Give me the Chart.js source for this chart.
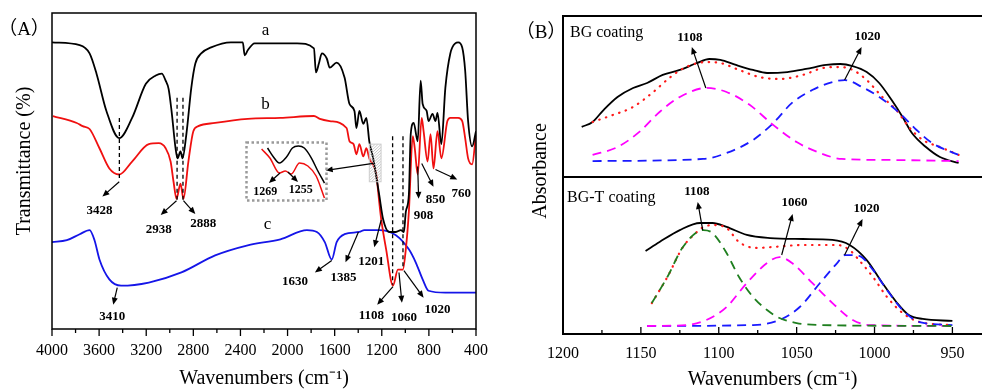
<!DOCTYPE html>
<html>
<head>
<meta charset="utf-8">
<script src="https://cdn.jsdelivr.net/npm/chart.js@4.4.1/dist/chart.umd.min.js"></script>
<style>
  body { margin: 0; background: #fff; }
  #wrap { position: relative; width: 982px; height: 392px; overflow: hidden; }
  .box { position: absolute; }
</style>
</head>
<body>
<div id="wrap">
  <div class="box" style="left:0;top:0;width:500px;height:392px"><canvas id="ftir"></canvas></div>
  <div class="box" style="left:245px;top:141px;width:83px;height:61px"><canvas id="inset"></canvas></div>
  <div class="box" style="left:520px;top:0;width:462px;height:392px"><canvas id="bgt"></canvas></div>
  <div class="box" style="left:520px;top:0;width:462px;height:178px"><canvas id="bg"></canvas></div>
</div>
<script>
// ---- (A) FTIR spectra : wavenumber (cm-1) / transmittance (arb.)
const wnA = [4000,3765,3681,3622,3538,3429,3320,3203,3119,3068,3035,3010,2985,2951,2934,2909,2892,2859,2817,2783,2733,2649,2481,2380,2364,2338,2280,1919,1776,1759,1734,1709,1667,1642,1583,1516,1474,1432,1415,1390,1357,1331,1306,1273,1222,1189,1138,1080,1038,1012,996,970,954,929,895,870,853,819,803,769,744,727,694,660,618,576,551,517,492,467,433,400];
const tA  = [90.7,89.8,87.2,80.8,69.0,60.4,66.8,77.6,80.2,80.8,78.6,76.0,69.0,57.2,54.0,56.2,54.0,61.7,76.4,84.0,87.2,89.1,90.7,90.7,86.6,88.2,90.4,90.4,88.8,81.2,84.0,87.2,85.6,82.7,84.3,79.6,71.2,69.0,63.6,69.0,64.9,66.8,59.4,54.0,42.5,34.8,30.7,30.7,31.3,30.7,37.1,42.5,61.7,65.2,59.4,78.6,71.2,69.0,65.8,68.1,65.8,68.4,58.5,76.4,87.2,90.4,90.7,89.1,81.8,65.8,57.8,62.6];

const wnB = [3992,3790,3740,3681,3597,3513,3429,3320,3178,3094,3035,2993,2968,2943,2909,2884,2842,2800,2758,2615,2338,2061,1776,1726,1642,1499,1474,1440,1415,1390,1357,1331,1306,1247,1222,1205,1163,1105,1063,1021,996,970,937,920,895,861,845,811,786,761,727,694,643,618,551,517,492,467,433,400];
const tB  = [67.4,65.2,64.2,63.3,57.2,50.8,48.9,53.0,58.5,58.8,57.2,53.0,46.6,41.2,46.0,41.2,53.0,62.6,64.2,65.2,66.5,66.8,67.4,66.5,65.8,63.6,59.4,58.5,55.3,58.5,54.6,57.2,54.0,48.9,40.3,34.8,25.2,13.7,18.8,18.8,25.2,37.1,61.0,57.2,48.9,66.8,62.6,53.0,61.7,50.8,62.6,54.0,65.8,66.8,66.8,65.8,60.4,54.0,52.1,61.7];

const wnC = [4000,3874,3765,3681,3639,3597,3513,3413,3178,2901,2615,2338,2061,1835,1751,1684,1625,1583,1516,1390,1348,1222,1080,970,912,853,803,660,400];
const tC  = [27.5,28.1,30.0,31.3,28.1,22.0,15.7,13.7,14.7,17.9,23.3,26.5,28.4,31.3,30.7,27.5,22.0,27.5,30.0,30.7,31.3,31.3,29.7,25.2,21.1,15.7,12.1,11.5,11.5];

// inset, 1300-1230 cm-1 zoom
const insetWnA = [1281,1276,1271,1265,1260,1255,1250,1244,1239,1233];
const insetA   = [88.5,73.8,63.9,73.8,88.5,91.8,88.5,72.1,52.5,31.1];
const insetWnB = [1286,1279,1271,1266,1261,1254,1247,1240,1233];
const insetB   = [86.9,72.1,47.5,50.8,45.9,63.9,59.0,42.6,6.6];

// ---- (B) deconvolution, BG coating
const bgWnMeas = [1188,1181,1174,1165,1155,1146,1136,1125,1114,1106,1099,1089,1078,1069,1056,1044,1031,1022,1014,1005,997,989,982,976,967,958,946];
const bgMeas   = [31.1,34.2,41.6,49.7,55.3,58.4,63.4,66.5,70.8,73.3,72.7,69.6,66.5,64.6,65.2,67.1,69.6,70.2,68.9,65.2,58.4,47.8,37.3,27.3,18.6,12.4,8.7];
const bgWnFit  = [1181,1168,1155,1142,1131,1121,1108,1099,1087,1074,1061,1046,1033,1022,1014,1005,995,986,978,969,958,946];
const bgFit    = [34.2,38.5,43.5,52.8,62.1,68.3,71.4,70.8,66.5,62.1,60.9,63.4,67.7,68.3,66.5,60.2,49.7,41.6,31.1,23.0,18.6,13.7];
const bgWn1108 = [1181,1165,1151,1138,1125,1108,1095,1080,1065,1050,1035,1021,992,946];
const bg1108   = [13.7,18.6,28.0,40.4,49.7,55.3,52.8,44.7,32.3,21.7,14.9,11.2,10.6,9.9];
const bgWn1020 = [1181,1110,1095,1078,1065,1053,1040,1027,1019,1008,997,984,973,963,946];
const bg1020   = [9.9,11.2,14.9,23.0,33.5,46.0,54.0,59.0,60.2,55.9,49.7,39.8,29.2,21.1,13.7];

// ---- (B) deconvolution, BG-T coating
const btWnMeas = [1147,1138,1125,1112,1104,1095,1082,1067,1046,1027,1016,1005,995,986,978,969,950];
const btMeas   = [52.9,58.6,66.2,70.7,70.7,68.2,63.1,61.1,60.5,59.9,56.7,47.1,32.5,20.4,12.1,9.6,8.3];
const btWnFit  = [1143,1133,1123,1114,1111,1104,1095,1087,1076,1065,1046,1024,1016,1010,1001,992,982,971,950];
const btFit    = [19.7,36.3,55.4,65.0,67.5,69.4,67.5,58.6,54.8,55.4,56.7,56.7,53.5,47.1,36.3,23.6,13.4,7.6,5.7];
const btWn1108 = [1143,1133,1123,1110,1104,1095,1087,1078,1069,1061,1050,1035,950];
const bt1108   = [19.7,36.3,55.4,66.2,64.3,51.6,36.3,23.6,15.3,10.2,7.0,5.7,5.1];
const btWn1060 = [1146,1121,1108,1095,1082,1069,1061,1053,1040,1027,1014,1003,950];
const bt1060   = [5.1,5.7,8.9,17.2,32.5,45.2,49.0,45.2,32.5,19.7,8.9,5.7,5.1];
const btWn1020 = [1146,1078,1061,1048,1035,1024,1019,1010,1001,992,982,971,950];
const bt1020   = [5.1,5.7,8.9,17.2,32.5,45.2,50.3,49.7,40.8,28.0,15.3,7.6,5.7];

// peak labels: [text, arrow start, arrow tip, label centre]
const peaksA = [
  ['3428', [3429,46.6], [3572,41.9], [3597,37.6]],
  ['2938', [2943,40.6], [3077,36.1], [3094,31.6]],
  ['2888', [2884,40.6], [2783,36.4], [2716,33.2]],
  ['3410', [3446,13.1], [3480,7.7],  [3488,3.8]],
  ['1630', [1625,21.7], [1768,17.9], [1936,15.0]],
  ['1385', [1398,30.7], [1508,21.1], [1524,16.2]],
  ['1201', [1205,34.5], [1264,25.9], [1289,21.3]],
  ['1108', [1105,13.4], [1239,7.7],  [1289,4.1]],
  ['1060', [1054,17.9], [1029,8.3],  [1012,3.5]],
  ['1020', [1012,18.5], [845,9.9],   [727,6.0]],
  ['908',  [895,51.4],  [887,41.2],  [845,36.0]],
  ['850',  [861,52.4],  [761,45.0],  [744,40.8]],
  ['760',  [744,50.5],  [559,47.3],  [526,42.8]]
];
const guidesA = [[3428,66.8,47.3],[2938,73.2,40.0],[2888,73.2,40.0],[1108,61.0,14.0],[1020,61.0,19.0]];
const peaksInset = [
  ['1269', [1270.5,47.5], [1279.8,31.1], [1283,16.4]],
  ['1255', [1263.8,49.2], [1255.3,32.8], [1253,19.7]]
];
const peaksBG = [
  ['1108', [1108.3,55.3], [1117.3,80.7], [1118.6,86.3]],
  ['1020', [1019.2,60.2], [1008.3,80.7], [1004.5,87.0]]
];
const peaksBT = [
  ['1108', [1110.3,66.2], [1113.5,84.1], [1114.1,90.4]],
  ['1060', [1059.6,50.3], [1052.6,76.4], [1051.3,83.4]],
  ['1020', [1019.2,50.3], [1007.7,73.2], [1005.1,79.6]]
];

const SERIF = "'Liberation Serif', 'Times New Roman', serif";
Chart.defaults.font.family = SERIF;
Chart.defaults.color = '#000';
Chart.defaults.animation = false;

function pts(xs, ys) { return xs.map((x, i) => ({ x: x, y: ys[i] })); }

function line(xs, ys, color, width, dash) {
  return {
    data: pts(xs, ys), borderColor: color, borderWidth: width || 1.8,
    borderDash: dash || [], borderCapStyle: dash && dash[0] < 1 ? 'round' : 'butt',
    pointRadius: 0, cubicInterpolationMode: 'monotone', fill: false
  };
}

function arrow(ctx, x1, y1, x2, y2) {
  const a = Math.atan2(y2 - y1, x2 - x1), L = 7, W = 3;
  ctx.beginPath();
  ctx.moveTo(x1, y1);
  ctx.lineTo(x2 - L * 0.8 * Math.cos(a), y2 - L * 0.8 * Math.sin(a));
  ctx.stroke();
  ctx.beginPath();
  ctx.moveTo(x2, y2);
  ctx.lineTo(x2 - L * Math.cos(a) + W * Math.sin(a), y2 - L * Math.sin(a) - W * Math.cos(a));
  ctx.lineTo(x2 - L * Math.cos(a) - W * Math.sin(a), y2 - L * Math.sin(a) + W * Math.cos(a));
  ctx.closePath();
  ctx.fill();
}

function drawPeaks(chart, list, font) {
  const ctx = chart.ctx, sx = chart.scales.x, sy = chart.scales.y;
  const P = v => [sx.getPixelForValue(v[0]), sy.getPixelForValue(v[1])];
  ctx.save();
  ctx.strokeStyle = '#000'; ctx.fillStyle = '#000'; ctx.lineWidth = 1.2;
  ctx.font = font || 'bold 13px ' + SERIF;
  ctx.textAlign = 'center'; ctx.textBaseline = 'middle';
  list.forEach(p => {
    const a = P(p[1]), b = P(p[2]), c = P(p[3]);
    arrow(ctx, a[0], a[1], b[0], b[1]);
    ctx.fillText(p[0], c[0], c[1]);
  });
  ctx.restore();
}

function text(chart, str, v, font, align) {
  const ctx = chart.ctx;
  ctx.save();
  ctx.font = font; ctx.fillStyle = '#000';
  ctx.textAlign = align || 'center'; ctx.textBaseline = 'middle';
  ctx.fillText(str, chart.scales.x.getPixelForValue(v[0]), chart.scales.y.getPixelForValue(v[1]));
  ctx.restore();
}

const plainTick = v => String(v);

// ---------------- panel A
const panelA = {
  id: 'panelA',
  afterDatasetsDraw(chart) {
    const { ctx, chartArea: ca } = chart;
    const sx = chart.scales.x, sy = chart.scales.y;
    ctx.save();
    // dashed guides
    ctx.strokeStyle = '#000'; ctx.lineWidth = 1.3; ctx.setLineDash([4, 3]);
    guidesA.forEach(g => {
      const x = sx.getPixelForValue(g[0]);
      ctx.beginPath(); ctx.moveTo(x, sy.getPixelForValue(g[1])); ctx.lineTo(x, sy.getPixelForValue(g[2])); ctx.stroke();
    });
    ctx.setLineDash([]);
    // hatched zoom region
    const hx1 = sx.getPixelForValue(1306), hx2 = sx.getPixelForValue(1206);
    const hy1 = sy.getPixelForValue(58.5), hy2 = sy.getPixelForValue(46.6);
    ctx.save();
    ctx.beginPath(); ctx.rect(hx1, hy1, hx2 - hx1, hy2 - hy1); ctx.clip();
    ctx.strokeStyle = '#bbb'; ctx.lineWidth = 0.8;
    for (let k = -40; k < 40; k += 3) {
      ctx.beginPath(); ctx.moveTo(hx1 + k, hy2); ctx.lineTo(hx1 + k + 40, hy1); ctx.stroke();
    }
    ctx.restore();
    ctx.strokeStyle = '#ccc'; ctx.lineWidth = 1;
    ctx.strokeRect(hx1, hy1, hx2 - hx1, hy2 - hy1);
    ctx.strokeStyle = '#000'; ctx.fillStyle = '#000'; ctx.lineWidth = 1.2;
    arrow(ctx, sx.getPixelForValue(1273), sy.getPixelForValue(52.4), sx.getPixelForValue(1676), sy.getPixelForValue(50.2));
    ctx.restore();

    drawPeaks(chart, peaksA);
    text(chart, 'a', [2187, 94.6], '17px ' + SERIF);
    text(chart, 'b', [2187, 70.9], '17px ' + SERIF);
    text(chart, 'c', [2170, 33.2], '17px ' + SERIF);

    // frame, ticks, titles
    ctx.save();
    ctx.strokeStyle = '#000'; ctx.lineWidth = 1.5;
    ctx.strokeRect(ca.left, ca.top, ca.right - ca.left, ca.bottom - ca.top);
    ctx.lineWidth = 1.3;
    for (let v = 400; v <= 4000; v += 200) {
      const x = sx.getPixelForValue(v), len = v % 400 === 0 ? 7 : 4;
      ctx.beginPath(); ctx.moveTo(x, ca.bottom); ctx.lineTo(x, ca.bottom + len); ctx.stroke();
    }
    ctx.fillStyle = '#000'; ctx.textAlign = 'center'; ctx.textBaseline = 'middle';
    ctx.font = '19px ' + SERIF + ", 'Noto Sans CJK SC'";
    ctx.fillText('（A）', 24, 30);
    ctx.translate(25, 161); ctx.rotate(-Math.PI / 2);
    ctx.font = '20px ' + SERIF;
    ctx.fillText('Transmittance (%)', 0, 0);
    ctx.restore();
  }
};

new Chart(document.getElementById('ftir'), {
  type: 'line',
  data: {
    datasets: [
      line(wnA, tA, '#000000'),
      line(wnB, tB, '#f01010'),
      line(wnC, tC, '#1515e8')
    ]
  },
  options: {
    responsive: true, maintainAspectRatio: false,
    layout: { padding: { left: 0, top: 13, right: 19, bottom: 0 } },
    plugins: { legend: { display: false }, tooltip: { enabled: false } },
    scales: {
      x: {
        type: 'linear', reverse: true, min: 400, max: 4000,
        grid: { display: false, drawTicks: false }, border: { display: false },
        ticks: { stepSize: 400, padding: 12, autoSkip: false, maxRotation: 0, font: { size: 16 }, callback: plainTick },
        title: { display: true, text: 'Wavenumbers (cm⁻¹)', font: { size: 20 }, padding: { top: 0, bottom: 1 } },
        afterFit: s => { s.height = 63; }
      },
      y: {
        min: 0, max: 100,
        grid: { display: false, drawTicks: false }, border: { display: false },
        ticks: { display: false },
        afterFit: s => { s.width = 52; }
      }
    }
  },
  plugins: [panelA]
});

// ---------------- inset
new Chart(document.getElementById('inset'), {
  type: 'line',
  data: {
    datasets: [
      line(insetWnA, insetA, '#000000', 1.5),
      line(insetWnB, insetB, '#f01010', 1.5)
    ]
  },
  options: {
    responsive: true, maintainAspectRatio: false,
    layout: { padding: 0 },
    plugins: { legend: { display: false }, tooltip: { enabled: false } },
    scales: {
      x: { type: 'linear', reverse: true, min: 1230, max: 1300, display: false },
      y: { min: 0, max: 100, display: false }
    }
  },
  plugins: [{
    id: 'insetBox',
    afterDatasetsDraw(chart) {
      const ctx = chart.ctx;
      drawPeaks(chart, peaksInset, 'bold 12px ' + SERIF);
      ctx.save();
      ctx.strokeStyle = '#9a9a9a'; ctx.lineWidth = 2.5; ctx.setLineDash([2.5, 2.5]);
      ctx.strokeRect(1.5, 1.5, chart.width - 3, chart.height - 3);
      ctx.restore();
    }
  }]
});

// ---------------- panel B
const dashed = [9, 6];
const dotted = [0.5, 6.5];
const bXscale = {
  type: 'linear', reverse: true, min: 931, max: 1200,
  grid: { display: false, drawTicks: false }, border: { display: false },
  ticks: { stepSize: 50, includeBounds: false, padding: 10, autoSkip: false, maxRotation: 0, font: { size: 16 }, callback: plainTick },
  title: { display: true, text: 'Wavenumbers (cm⁻¹)', font: { size: 20 }, padding: { top: 0, bottom: 0 } },
  afterFit: s => { s.height = 58; }
};

new Chart(document.getElementById('bgt'), {
  type: 'line',
  data: {
    datasets: [
      line(btWn1108, bt1108, '#1f7f1f', 1.8, dashed),
      line(btWn1060, bt1060, '#ff00ff', 1.8, dashed),
      line(btWn1020, bt1020, '#1a1aff', 1.8, dashed),
      line(btWnFit, btFit, '#ff1a1a', 2.2, dotted),
      line(btWnMeas, btMeas, '#000000', 1.8)
    ]
  },
  options: {
    responsive: true, maintainAspectRatio: false,
    layout: { padding: { left: 0, top: 177, right: 0, bottom: 0 } },
    plugins: { legend: { display: false }, tooltip: { enabled: false } },
    scales: {
      x: bXscale,
      y: {
        min: 0, max: 100,
        grid: { display: false, drawTicks: false }, border: { display: false },
        ticks: { display: false },
        afterFit: s => { s.width = 43; }
      }
    }
  },
  plugins: [{
    id: 'panelBT',
    afterDatasetsDraw(chart) {
      const { ctx, chartArea: ca } = chart;
      const sx = chart.scales.x;
      drawPeaks(chart, peaksBT);
      text(chart, 'BG-T coating', [1197.4, 86.6], '16px ' + SERIF, 'left');
      ctx.save();
      ctx.strokeStyle = '#000'; ctx.lineWidth = 2;
      ctx.beginPath();
      ctx.moveTo(ca.right, ca.top); ctx.lineTo(ca.left, ca.top);
      ctx.lineTo(ca.left, ca.bottom); ctx.lineTo(ca.right, ca.bottom);
      ctx.stroke();
      ctx.lineWidth = 1.3;
      for (let v = 950; v <= 1200; v += 25) {
        const x = sx.getPixelForValue(v), len = v % 50 === 0 ? 7 : 4;
        ctx.beginPath(); ctx.moveTo(x, ca.bottom); ctx.lineTo(x, ca.bottom - len); ctx.stroke();
      }
      ctx.fillStyle = '#000'; ctx.textAlign = 'center'; ctx.textBaseline = 'middle';
      ctx.font = '19px ' + SERIF + ", 'Noto Sans CJK SC'";
      ctx.fillText('（B）', 21, 33);
      ctx.translate(21, 171); ctx.rotate(-Math.PI / 2);
      ctx.font = '20px ' + SERIF;
      ctx.fillText('Absorbance', 0, 0);
      ctx.restore();
    }
  }]
});

new Chart(document.getElementById('bg'), {
  type: 'line',
  data: {
    datasets: [
      line(bgWn1108, bg1108, '#ff00ff', 1.8, dashed),
      line(bgWn1020, bg1020, '#1a1aff', 1.8, dashed),
      line(bgWnFit, bgFit, '#ff1a1a', 2.2, dotted),
      line(bgWnMeas, bgMeas, '#000000', 1.8)
    ]
  },
  options: {
    responsive: true, maintainAspectRatio: false,
    layout: { padding: { left: 0, top: 16, right: 0, bottom: 1 } },
    plugins: { legend: { display: false }, tooltip: { enabled: false } },
    scales: {
      x: { type: 'linear', reverse: true, min: 931, max: 1200, display: false },
      y: {
        min: 0, max: 100,
        grid: { display: false, drawTicks: false }, border: { display: false },
        ticks: { display: false },
        afterFit: s => { s.width = 43; }
      }
    }
  },
  plugins: [{
    id: 'panelBG',
    afterDatasetsDraw(chart) {
      const { ctx, chartArea: ca } = chart;
      drawPeaks(chart, peaksBG);
      text(chart, 'BG coating', [1195.5, 89.4], '16px ' + SERIF, 'left');
      ctx.save();
      ctx.strokeStyle = '#000'; ctx.lineWidth = 2;
      ctx.beginPath();
      ctx.moveTo(ca.right, ca.top); ctx.lineTo(ca.left, ca.top); ctx.lineTo(ca.left, ca.bottom);
      ctx.stroke();
      ctx.restore();
    }
  }]
});
</script>
</body>
</html>
